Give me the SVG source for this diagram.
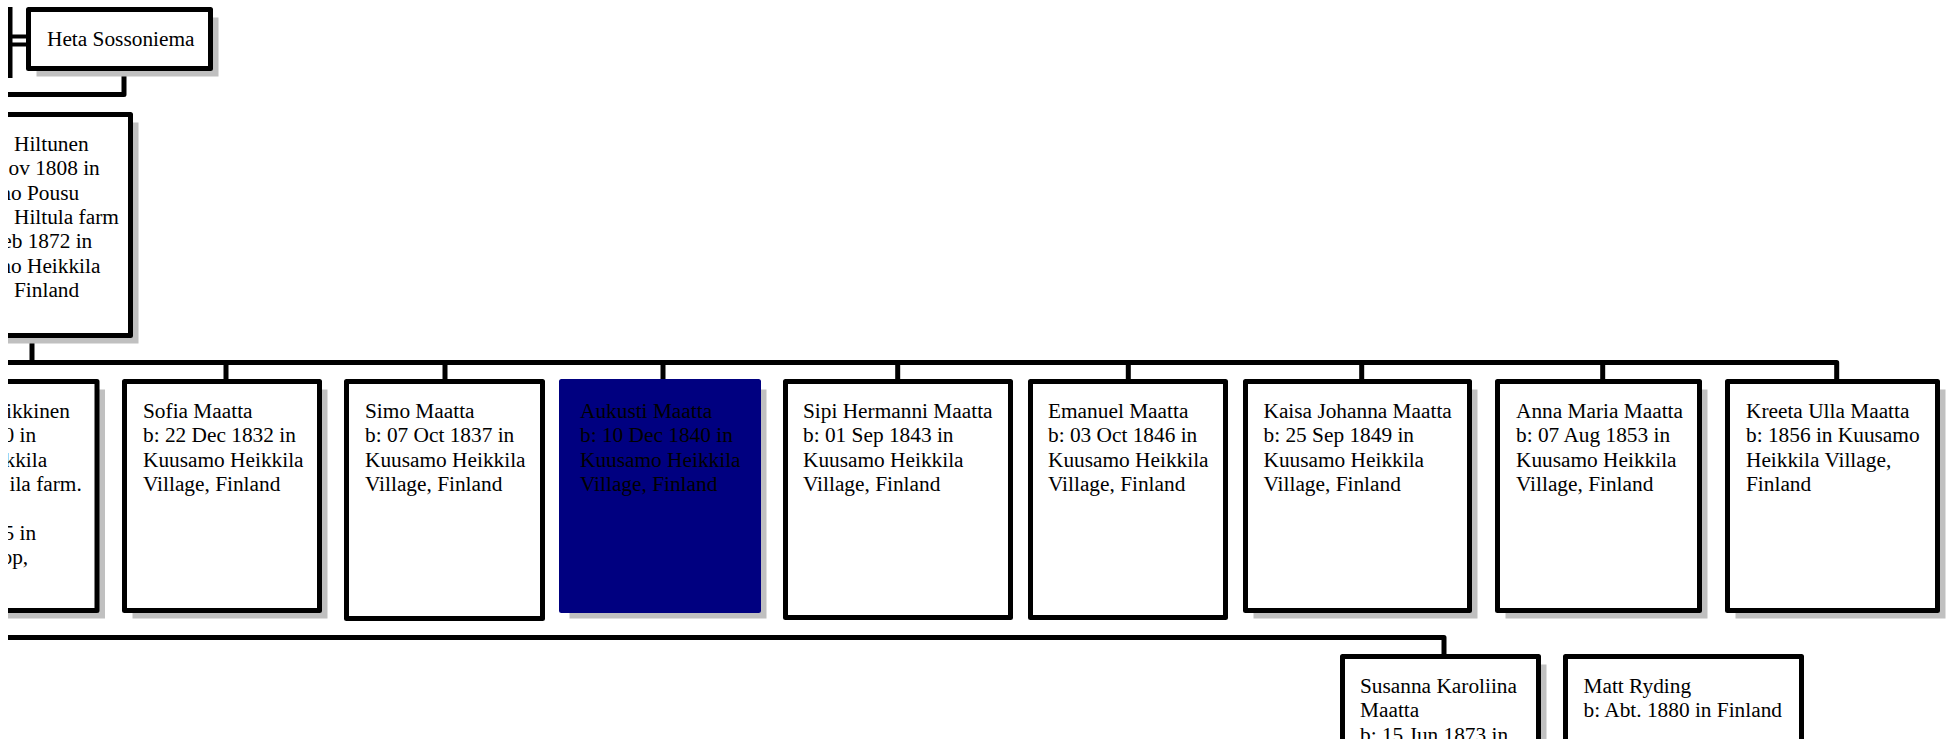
<svg xmlns="http://www.w3.org/2000/svg" width="1952" height="739" viewBox="0 0 1952 739">
<defs>
<clipPath id="view"><rect x="8" y="0" width="1944" height="739"/></clipPath>
</defs>
<style>
.box{fill:#fff;stroke:#000;stroke-width:5;stroke-linejoin:round}
.sel{fill:#000080;stroke:#000080;stroke-width:5;stroke-linejoin:round}
.sh{fill:#c0c0c0}
.t{font-family:"Liberation Serif","Times New Roman",serif;font-size:21.33px;fill:#000}
.ln{fill:none;stroke:#000;stroke-width:5;stroke-linejoin:round}
.dbl{fill:none;stroke:#000;stroke-width:4}
</style>
<rect width="1952" height="739" fill="#fff"/>
<g clip-path="url(#view)">
<g id="connectors">
<path class="ln" d="M10,7 V78"/>
<path class="dbl" d="M8,36.5 H29 M8,44.5 H29"/>
<path class="ln" d="M124,68.5 V94.5 H0"/>
<path class="ln" d="M32,335.5 V362.5"/>
<path class="ln" d="M0,362.5 H1836.7 V381.5"/>
<path class="ln" d="M226,362.5 V381.5 M445,362.5 V381.5 M663,362.5 V381.5 M897.7,362.5 V381.5 M1128.3,362.5 V381.5 M1361.7,362.5 V381.5 M1602.7,362.5 V381.5"/>
<path class="ln" d="M0,637.5 H1444 V656.5"/>
</g>
<g id="heta">
<rect class="sh" x="36.5" y="17.5" width="182" height="59"/>
<rect class="box" x="28.5" y="9.5" width="182" height="59"/>
<text class="t" x="47" y="46">Heta Sossoniema</text>
</g>
<g id="hiltunen">
<rect class="sh" x="-52" y="122.5" width="190.5" height="221"/>
<rect class="box" x="-60" y="114.5" width="190.5" height="221"/>
<text class="t"><tspan x="14" y="151">Hiltunen</tspan><tspan x="8.5" y="175.3">ov 1808 in</tspan><tspan x="-5.6" y="199.6">mo Pousu</tspan><tspan x="14" y="223.9">Hiltula farm</tspan><tspan x="2.2" y="248.2">eb 1872 in</tspan><tspan x="-5.6" y="272.5">mo Heikkila</tspan><tspan x="14" y="296.8">Finland</tspan></text>
</g>
<g id="child-cut">
<rect class="sh" x="-92" y="389.5" width="197" height="229"/>
<rect class="box" x="-100" y="381.5" width="197" height="229"/>
<text class="t"><tspan x="6" y="418">ikkinen</tspan><tspan x="3.5" y="442.3">0 in</tspan><tspan x="4.5" y="466.6">kkila</tspan><tspan x="9.5" y="490.9">ila farm.</tspan><tspan x="3.5" y="539.5">5 in</tspan><tspan x="1.5" y="563.8">op,</tspan></text>
</g>
<g id="sofia">
<rect class="sh" x="132.5" y="389.5" width="195" height="229"/>
<rect class="box" x="124.5" y="381.5" width="195" height="229"/>
<text class="t"><tspan x="143" y="418">Sofia Maatta</tspan><tspan x="143" y="442.3">b: 22 Dec 1832 in</tspan><tspan x="143" y="466.6">Kuusamo Heikkila</tspan><tspan x="143" y="490.9">Village, Finland</tspan></text>
</g>
<g id="simo">
<rect class="box" x="346.5" y="381.5" width="196" height="237"/>
<text class="t"><tspan x="365" y="418">Simo Maatta</tspan><tspan x="365" y="442.3">b: 07 Oct 1837 in</tspan><tspan x="365" y="466.6">Kuusamo Heikkila</tspan><tspan x="365" y="490.9">Village, Finland</tspan></text>
</g>
<g id="aukusti">
<rect class="sh" x="569.5" y="389.5" width="197" height="229"/>
<rect class="sel" x="561.5" y="381.5" width="197" height="229"/>
<text class="t"><tspan x="580" y="418">Aukusti Maatta</tspan><tspan x="580" y="442.3">b: 10 Dec 1840 in</tspan><tspan x="580" y="466.6">Kuusamo Heikkila</tspan><tspan x="580" y="490.9">Village, Finland</tspan></text>
</g>
<g id="sipi">
<rect class="box" x="785.5" y="381.5" width="225" height="236"/>
<text class="t"><tspan x="803" y="418">Sipi Hermanni Maatta</tspan><tspan x="803" y="442.3">b: 01 Sep 1843 in</tspan><tspan x="803" y="466.6">Kuusamo Heikkila</tspan><tspan x="803" y="490.9">Village, Finland</tspan></text>
</g>
<g id="emanuel">
<rect class="box" x="1030.5" y="381.5" width="195" height="236"/>
<text class="t"><tspan x="1048" y="418">Emanuel Maatta</tspan><tspan x="1048" y="442.3">b: 03 Oct 1846 in</tspan><tspan x="1048" y="466.6">Kuusamo Heikkila</tspan><tspan x="1048" y="490.9">Village, Finland</tspan></text>
</g>
<g id="kaisa">
<rect class="sh" x="1253.5" y="389.5" width="224" height="229"/>
<rect class="box" x="1245.5" y="381.5" width="224" height="229"/>
<text class="t"><tspan x="1263.5" y="418">Kaisa Johanna Maatta</tspan><tspan x="1263.5" y="442.3">b: 25 Sep 1849 in</tspan><tspan x="1263.5" y="466.6">Kuusamo Heikkila</tspan><tspan x="1263.5" y="490.9">Village, Finland</tspan></text>
</g>
<g id="anna">
<rect class="sh" x="1505.5" y="389.5" width="202" height="229"/>
<rect class="box" x="1497.5" y="381.5" width="202" height="229"/>
<text class="t"><tspan x="1516" y="418">Anna Maria Maatta</tspan><tspan x="1516" y="442.3">b: 07 Aug 1853 in</tspan><tspan x="1516" y="466.6">Kuusamo Heikkila</tspan><tspan x="1516" y="490.9">Village, Finland</tspan></text>
</g>
<g id="kreeta">
<rect class="sh" x="1735.5" y="389.5" width="210" height="229"/>
<rect class="box" x="1727.5" y="381.5" width="210" height="229"/>
<text class="t"><tspan x="1746" y="418">Kreeta Ulla Maatta</tspan><tspan x="1746" y="442.3">b: 1856 in Kuusamo</tspan><tspan x="1746" y="466.6">Heikkila Village,</tspan><tspan x="1746" y="490.9">Finland</tspan></text>
</g>
<g id="susanna">
<rect class="sh" x="1350.5" y="664.5" width="196" height="200"/>
<rect class="box" x="1342.5" y="656.5" width="196" height="200"/>
<text class="t"><tspan x="1360" y="693">Susanna Karoliina</tspan><tspan x="1360" y="717.3">Maatta</tspan><tspan x="1360" y="741.6">b: 15 Jun 1873 in</tspan></text>
</g>
<g id="matt">
<rect class="box" x="1565.5" y="656.5" width="236" height="200"/>
<text class="t"><tspan x="1583.5" y="693">Matt Ryding</tspan><tspan x="1583.5" y="717.3">b: Abt. 1880 in Finland</tspan></text>
</g>
</g>
</svg>
